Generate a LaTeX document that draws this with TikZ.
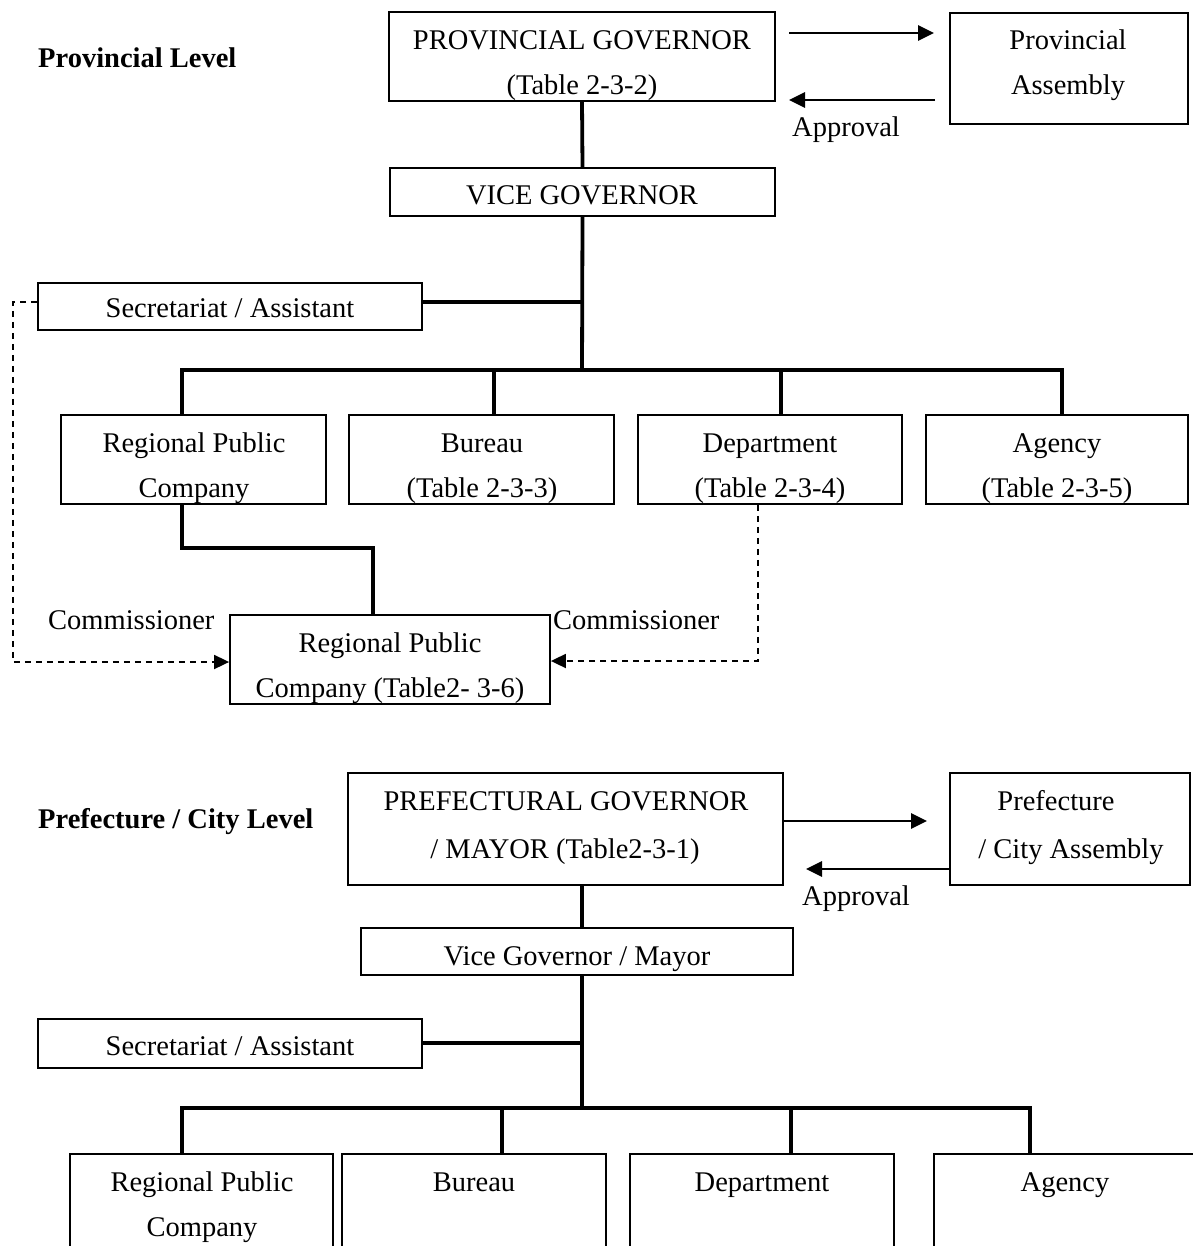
\documentclass[tikz,border=0pt]{standalone}
\usepackage{fontspec}
\setmainfont{Liberation Serif}
\usetikzlibrary{arrows.meta,fit}
\begin{document}
\begin{tikzpicture}[x=1pt,y=-1pt,
  boxs/.style={draw, line width=1.8pt, inner sep=0pt},
  opens/.style={inner sep=0pt},
  boxline/.style={line width=1.8pt},
  t/.style={anchor=base, inner sep=0pt, font=\fontsize{28.5}{34}\selectfont},
  tl/.style={anchor=base west, inner sep=0pt, font=\fontsize{28.5}{34}\selectfont},
  hd/.style={anchor=base west, inner sep=0pt, font=\fontsize{28.5}{34}\selectfont\bfseries},
  conn/.style={line width=3.8pt},
  arr/.style={line width=2.8pt, -{Triangle[length=16pt,width=15pt]}},
  dsh/.style={line width=1.8pt, dash pattern=on 6pt off 5pt, -{Triangle[length=15pt,width=14pt]}}]
\useasboundingbox[fill=white] (0,0) rectangle (1192,1246);

% ===================== Provincial level =====================
\node[hd] (h1) at (38,68) {Provincial Level};

\node[boxs, fit={(389,12) (775,101)}] (gov) {};
\node[t] (gov1) at (582,50) {PROVINCIAL GOVERNOR};
\node[t] (gov2) at (582,95) {(Table 2-3-2)};

\node[boxs, fit={(950,13) (1188,124)}] (asm) {};
\node[t] (asm1) at (1068,50) {Provincial};
\node[t] (asm2) at (1068,95) {Assembly};

\coordinate (a1) at (789,33);
\coordinate (a2) at (934,33);
\coordinate (a3) at (935,100);
\coordinate (a4) at (789,100);
\draw[arr] (a1) -- (a2);
\draw[arr] (a3) -- (a4);
\node[tl] (appr1) at (792,137) {Approval};

\node[boxs, fit={(390,168) (775,216)}] (vice) {};
\node[t] (vice1) at (582,205) {VICE GOVERNOR};

\node[boxs, fit={(38,283) (422,330)}] (sec) {};
\node[t] (sec1) at (230,317) {Secretariat / Assistant};

\node[boxs, fit={(61,415) (326,504)}] (rpc) {};
\node[t] (rpc1) at (194,452) {Regional Public};
\node[t] (rpc2t) at (194,497) {Company};

\node[boxs, fit={(349,415) (614,504)}] (bur) {};
\node[t] (bur1) at (482,452) {Bureau};
\node[t] (bur2) at (482,497) {(Table 2-3-3)};

\node[boxs, fit={(638,415) (902,504)}] (dep) {};
\node[t] (dep1) at (770,452) {Department};
\node[t] (dep2) at (770,497) {(Table 2-3-4)};

\node[boxs, fit={(926,415) (1188,504)}] (ag) {};
\node[t] (ag1) at (1057,452) {Agency};
\node[t] (ag2) at (1057,497) {(Table 2-3-5)};

\node[boxs, fit={(230,615) (550,704)}] (rpcb) {};
\node[t] (rpcb1) at (390,652) {Regional Public};
\node[t] (rpcb2) at (390,697) {Company (Table2- 3-6)};

\node[tl] (com1) at (48,629) {Commissioner};
\node[tl] (com2) at (553,629) {Commissioner};

% connectors
\draw[conn] (gov.south) -- (vice.north);
\coordinate (b1) at (582,370);
\coordinate (s1) at (582,302);
\draw[conn] (vice.south) -- (b1);
\draw[conn] (s1 -| sec.east) -- (s1);
\coordinate (d1) at (182,370);
\coordinate (d2) at (494,370);
\coordinate (d3) at (781,370);
\coordinate (d4) at (1062,370);
\draw[conn, line join=miter] (d1 |- rpc.north) -- (d1) -- (d4) -- (d4 |- ag.north);
\draw[conn] (d2) -- (d2 |- bur.north);
\draw[conn] (d3) -- (d3 |- dep.north);

\coordinate (j1) at (182,548);
\coordinate (j2) at (373,548);
\draw[conn, line join=miter] (j1 |- rpc.south) -- (j1) -- (j2) -- (j2 |- rpcb.north);

\coordinate (k1) at (13,662);
\coordinate (k2) at (758,661);
\draw[dsh] (sec.west |- s1) -| (k1) -- (k1 -| rpcb.west);
\draw[dsh] (k2 |- dep.south) -- (k2) -- (k2 -| rpcb.east);

% ===================== Prefecture / City level =====================
\node[hd] (h2) at (38,828) {Prefecture / City Level};

\node[boxs, fit={(348,773) (783,885)}] (pgov) {};
\node[t] (pgov1) at (566,810) {PREFECTURAL GOVERNOR};
\node[t] (pgov2) at (565,858) {/ MAYOR (Table2-3-1)};

\node[boxs, fit={(950,773) (1190,885)}] (pasm) {};
\node[t] (pasm1) at (1056,810) {Prefecture};
\node[t] (pasm2) at (1071,858) {/ City Assembly};

\coordinate (p1) at (783,821);
\coordinate (p2) at (927,821);
\coordinate (p3) at (950,869);
\coordinate (p4) at (806,869);
\draw[arr] (p1) -- (p2);
\draw[arr] (p3) -- (p4);
\node[tl] (appr2) at (802,905) {Approval};

\node[boxs, fit={(361,928) (793,975)}] (pvice) {};
\node[t] (pvice1) at (577,965) {Vice Governor / Mayor};

\node[boxs, fit={(38,1019) (422,1068)}] (psec) {};
\node[t] (psec1) at (230,1055) {Secretariat / Assistant};

\node[opens, fit={(70,1154) (333,1260)}] (prpc) {};
\node[t] (prpc1) at (202,1191) {Regional Public};
\node[t] (prpc2) at (202,1236) {Company};
\node[opens, fit={(342,1154) (606,1260)}] (pbur) {};
\node[t] (pbur1) at (474,1191) {Bureau};
\node[opens, fit={(630,1154) (894,1260)}] (pdep) {};
\node[t] (pdep1) at (762,1191) {Department};
\node[opens, fit={(934,1154) (1200,1260)}] (pag) {};
\node[t] (pag1) at (1065,1191) {Agency};

\draw[boxline] (prpc.south west) -- (prpc.north west) -- (prpc.north east) -- (prpc.south east);
\draw[boxline] (pbur.south west) -- (pbur.north west) -- (pbur.north east) -- (pbur.south east);
\draw[boxline] (pdep.south west) -- (pdep.north west) -- (pdep.north east) -- (pdep.south east);
\draw[boxline] (pag.south west) -- (pag.north west) -- (pag.north east);

\coordinate (q0) at (582,885);
\coordinate (q1) at (582,1108);
\coordinate (t1) at (582,1043);
\draw[conn] (q0) -- (q0 |- pvice.north);
\draw[conn] (q1 |- pvice.south) -- (q1);
\draw[conn] (t1 -| psec.east) -- (t1);
\coordinate (e1) at (182,1108);
\coordinate (e2) at (502,1108);
\coordinate (e3) at (791,1108);
\coordinate (e4) at (1030,1108);
\draw[conn, line join=miter] (e1 |- prpc.north) -- (e1) -- (e4) -- (e4 |- pag.north);
\draw[conn] (e2) -- (e2 |- pbur.north);
\draw[conn] (e3) -- (e3 |- pdep.north);
\end{tikzpicture}
\end{document}
